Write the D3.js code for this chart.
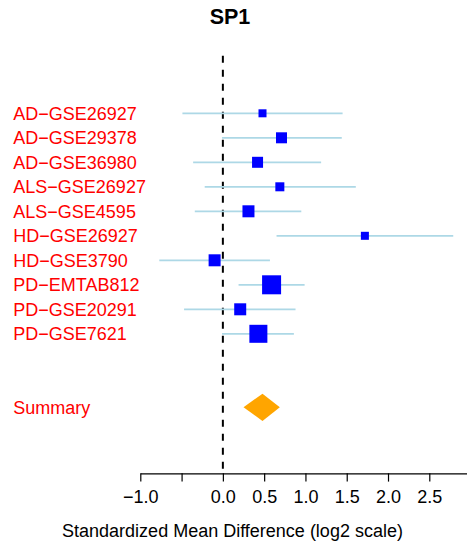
<!DOCTYPE html>
<html>
<head>
<meta charset="utf-8">
<script src="https://cdn.jsdelivr.net/npm/d3@7"></script>
<style>
  html, body { margin: 0; padding: 0; background: #fff; }
  text { font-family: "Liberation Sans", Arial, Helvetica, sans-serif; }
</style>
</head>
<body>
<svg id="chart" width="467" height="541"></svg>
<script>
// ---- data ----
const studies = ["AD-GSE26927", "AD-GSE29378", "AD-GSE36980", "ALS-GSE26927", "ALS-GSE4595",
                 "HD-GSE26927", "HD-GSE3790", "PD-EMTAB812", "PD-GSE20291", "PD-GSE7621"];
const effect  = [0.48, 0.71, 0.42, 0.69, 0.31, 1.72, -0.10, 0.59, 0.21, 0.43];
const ciLower = [-0.49, -0.01, -0.36, -0.22, -0.34, 0.65, -0.77, 0.19, -0.47, -0.01];
const ciUpper = [1.45, 1.44, 1.19, 1.61, 0.95, 2.79, 0.57, 0.99, 0.88, 0.86];
const boxSize = [8, 11, 11, 9, 12, 8, 12, 19, 12, 18];   // relative weight (px)
const summaryLabel = "Summary";
const summaryEst = 0.48, summaryLo = 0.25, summaryHi = 0.69;
const tickValues = [-1.0, -0.5, 0.0, 0.5, 1.0, 1.5, 2.0, 2.5];
const tickLabels = ["\u22121.0", "", "0.0", "0.5", "1.0", "1.5", "2.0", "2.5"];
const title = "SP1";
const xTitle = "Standardized Mean Difference (log2 scale)";

// ---- layout ----
const svg = d3.select("#chart");
const unit = 82.57;
const x0 = 140.3;
const x = d3.scaleLinear().domain([-1, 2.955]).range([x0, x0 + 3.955 * unit]);
const y = d3.scaleLinear().domain([0, 12]).range([113.3, 407.3]);
const axisY = 473.3;
const dispLabel = s => s.replace("-", "\u2212");

// title
svg.append("text").attr("x", 230).attr("y", 23.5).attr("text-anchor", "middle")
  .attr("font-size", 21.5).attr("font-weight", "bold").attr("fill", "#000").text(title);

// zero line
svg.append("line").attr("x1", x(0)).attr("x2", x(0)).attr("y1", 55.7).attr("y2", axisY)
  .attr("stroke", "#000").attr("stroke-width", 2).attr("stroke-dasharray", "7,7");

// study labels
svg.selectAll("text.lab").data(studies).enter().append("text").attr("class", "lab")
  .attr("x", 13.3).attr("y", (d, i) => y(i)).attr("dy", "0.37em")
  .attr("font-size", 18).attr("fill", "#FF0000").text(d => dispLabel(d));

// CI lines
svg.selectAll("line.ci").data(studies).enter().append("line").attr("class", "ci")
  .attr("x1", (d, i) => x(ciLower[i])).attr("x2", (d, i) => x(ciUpper[i]))
  .attr("y1", (d, i) => y(i)).attr("y2", (d, i) => y(i))
  .attr("stroke", "#ADD8E6").attr("stroke-width", 1.8);

// boxes
svg.selectAll("rect.box").data(studies).enter().append("rect").attr("class", "box")
  .attr("x", (d, i) => x(effect[i]) - boxSize[i] / 2)
  .attr("y", (d, i) => y(i) - boxSize[i] / 2)
  .attr("width", (d, i) => boxSize[i]).attr("height", (d, i) => boxSize[i])
  .attr("fill", "#0000FF");

// summary
svg.append("text").attr("x", 13.3).attr("y", y(12)).attr("dy", "0.37em")
  .attr("font-size", 18).attr("fill", "#FF0000").text(summaryLabel);
const sy = y(12), sh = 13.6;
svg.append("path")
  .attr("d", `M${x(summaryLo)},${sy} L${x(summaryEst)},${sy - sh} L${x(summaryHi)},${sy} L${x(summaryEst)},${sy + sh} Z`)
  .attr("fill", "#FFA500");

// axis
const axis = d3.axisBottom(x).tickValues(tickValues).tickSize(8.3).tickSizeOuter(0)
  .tickFormat((d, i) => tickLabels[i]);
const g = svg.append("g").attr("transform", `translate(0,${axisY})`).call(axis);
g.select(".domain").attr("stroke", "#000").attr("stroke-width", 1.2);
g.selectAll(".tick line").attr("stroke", "#000").attr("stroke-width", 1.2);
g.selectAll(".tick text").attr("font-size", 18).attr("fill", "#000")
  .attr("font-family", "'Liberation Sans', Arial, sans-serif").attr("y", 17).attr("dy", "0.71em");

svg.append("text").attr("x", 232.5).attr("y", 536.5).attr("text-anchor", "middle")
  .attr("font-size", 18).attr("fill", "#000").text(xTitle);
</script>
</body>
</html>
